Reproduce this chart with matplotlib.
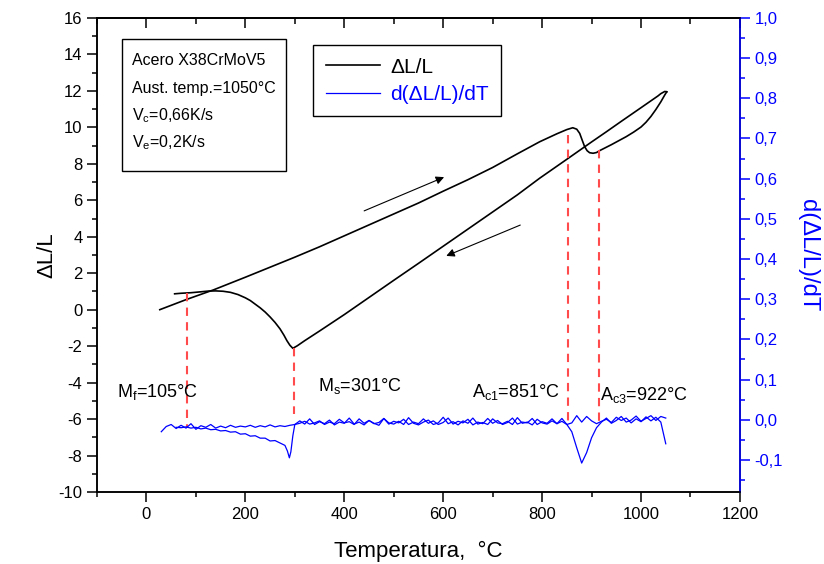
import matplotlib
matplotlib.use('Agg')
import matplotlib.pyplot as plt
from matplotlib.ticker import MultipleLocator, FuncFormatter
from matplotlib.patches import Rectangle

plt.rcParams['font.family'] = ['Liberation Sans', 'DejaVu Sans']
plt.rcParams['mathtext.fontset'] = 'custom'
plt.rcParams['mathtext.rm'] = 'Liberation Sans'
plt.rcParams['mathtext.default'] = 'regular'
plt.rcParams['axes.unicode_minus'] = False

# dilatometry curve, heating branch (T in C, dL/L)
heat_T = [27, 80, 135, 200, 250, 300, 350, 400, 450, 500, 550, 600, 650, 700, 750,
          795, 830, 850, 862, 870, 876, 881, 886, 891, 896, 903, 910, 916, 940, 970,
          985, 1000, 1010, 1020, 1030, 1040, 1048, 1052]
heat_L = [0.0, 0.55, 1.08, 1.78, 2.33, 2.88, 3.45, 4.05, 4.65, 5.25, 5.85, 6.5, 7.13, 7.8, 8.55,
          9.21, 9.65, 9.88, 9.98, 9.9, 9.67, 9.3, 8.94, 8.72, 8.61, 8.58, 8.62, 8.72, 9.05, 9.49,
          9.74, 10.02, 10.28, 10.6, 10.98, 11.4, 11.78, 11.95]

# cooling branch
cool_T = [1052, 1048, 1040, 1034, 1000, 960, 930, 900, 870, 850, 795, 750, 700, 650,
          600, 550, 500, 450, 400, 350, 320, 305, 296, 290, 284, 278, 270, 260, 250,
          240, 230, 220, 210, 200, 185, 170, 155, 140, 125, 110, 90, 70, 57]
cool_L = [11.95, 11.97, 11.85, 11.72, 11.08, 10.33, 9.76, 9.2, 8.63, 8.25, 7.21, 6.3, 5.36, 4.42,
          3.48, 2.54, 1.61, 0.67, -0.27, -1.17, -1.7, -1.98, -2.12, -1.95, -1.7, -1.4, -1.05, -0.7, -0.4,
          -0.13, 0.1, 0.3, 0.5, 0.65, 0.83, 0.95, 1.01, 1.03, 1.02, 0.98, 0.93, 0.9, 0.87]

# derivative d(dL/L)/dT, heating
dheat_T = [30, 40, 50, 60, 70, 80, 90, 100, 110, 120,
           130, 140, 150, 160, 170, 180, 190, 200, 210, 220,
           230, 240, 250, 260, 270, 280, 290, 300, 310, 320,
           330, 340, 350, 360, 370, 380, 390, 400, 410, 420,
           430, 440, 450, 460, 470, 480, 490, 500, 510, 520,
           530, 540, 550, 560, 570, 580, 590, 600, 610, 620,
           630, 640, 650, 660, 670, 680, 690, 700, 710, 720,
           730, 740, 750, 760, 770, 780, 790, 800, 810, 820,
           830, 840, 850, 860, 870, 880, 890, 900, 910, 920,
           930, 940, 950, 960, 970, 980, 990, 1000, 1010, 1020,
           1030, 1040, 1050]
dheat = [-0.030, -0.017, -0.012, -0.022, -0.014, -0.021, -0.010, -0.024, -0.015, -0.019,
         -0.012, -0.021, -0.016, -0.020, -0.014, -0.019, -0.016, -0.018, -0.014, -0.019,
         -0.015, -0.018, -0.013, -0.018, -0.015, -0.017, -0.014, -0.012, -0.003, -0.011,
         0.002, -0.012, -0.005, -0.010, -0.001, -0.013, -0.006, -0.009, 0.004, -0.011,
         -0.006, -0.013, -0.002, -0.009, -0.014, 0.003, -0.008, -0.011, -0.004, -0.012,
         0.005, -0.009, -0.013, -0.006, -0.001, -0.012, -0.008, 0.006, -0.010, -0.005,
         -0.013, -0.003, -0.009, 0.004, -0.011, -0.007, -0.012, 0.002, -0.008, -0.010,
         -0.004, -0.012, 0.005, -0.009, -0.006, -0.013, 0.001, -0.008, -0.011, -0.003,
         -0.010, 0.003, -0.012, -0.030, -0.070, -0.108, -0.082, -0.045, -0.020, -0.006,
         0.004, -0.009, -0.002, 0.008, -0.006, -0.001, 0.009, -0.004, 0.003, 0.010,
         -0.002, 0.008, 0.004]

# derivative, cooling
dcool_T = [1050, 1040, 1030, 1020, 1010, 1000, 990, 980, 970, 960,
           950, 940, 930, 920, 910, 900, 890, 880, 870, 860,
           850, 840, 830, 820, 810, 800, 790, 780, 770, 760,
           750, 740, 730, 720, 710, 700, 690, 680, 670, 660,
           650, 640, 630, 620, 610, 600, 590, 580, 570, 560,
           550, 540, 530, 520, 510, 500, 490, 480, 470, 460,
           450, 440, 430, 420, 410, 400, 390, 380, 370, 360,
           350, 340, 330, 320, 310, 300, 296, 292, 289, 285,
           280, 270, 260, 250, 240, 230, 220, 210, 200, 190,
           180, 170, 160, 150, 140, 130, 120, 110, 100, 90,
           80, 70, 60]
dcool = [-0.060, -0.006, 0.006, -0.003, 0.007, -0.005, 0.002, -0.008, 0.004, -0.002,
         0.006, -0.007, 0.001, -0.004, -0.010, -0.003, 0.008, -0.006, 0.010, -0.008,
         -0.012, -0.004, -0.010, 0.002, -0.009, -0.005, -0.012, 0.003, -0.008, -0.006,
         -0.011, 0.004, -0.007, -0.012, -0.002, -0.009, 0.003, -0.010, -0.006, -0.013,
         0.001, -0.008, -0.004, -0.011, 0.004, -0.007, -0.012, -0.003, -0.009, 0.002,
         -0.010, -0.006, -0.012, 0.001, -0.008, -0.004, -0.011, 0.003, -0.007, -0.010,
         -0.002, -0.009, 0.002, -0.012, -0.005, -0.008, 0.001, -0.010, -0.006, -0.012,
         -0.003, -0.008, -0.011, -0.004, -0.009, -0.012, -0.040, -0.080, -0.095, -0.078,
         -0.064, -0.058, -0.052, -0.053, -0.046, -0.046, -0.040, -0.041, -0.035, -0.036,
         -0.030, -0.031, -0.027, -0.028, -0.024, -0.025, -0.021, -0.023, -0.019, -0.021,
         -0.018, -0.020, -0.019]

# transformation markers
mark_T = [81, 298, 852, 916]
mark_top = [0.9, -2.1, 9.6, 8.75]
mark_bot = [-6.5, -5.7, -6.2, -6.15]
mark_labels = [r'M$_f$=105°C', r'M$_s$=301°C', r'A$_{c1}$=851°C', r'A$_{c3}$=922°C']
label_pos = [(-60, -4.5), (346, -4.2), (658, -4.5), (918, -4.7)]

info_lines = ['Acero X38CrMoV5', 'Aust. temp.=1050°C', r'V$_c$=0,66K/s', r'V$_e$=0,2K/s']

fig = plt.figure(figsize=(8.24, 5.64), dpi=100)
ax = fig.add_axes([0.1177, 0.1277, 0.7803, 0.8404])
ax2 = ax.twinx()

l1, = ax.plot(heat_T, heat_L, color='black', lw=1.2)
ax.plot(cool_T, cool_L, color='black', lw=1.2)
l2, = ax2.plot(dheat_T, dheat, color='blue', lw=0.9)
ax2.plot(dcool_T, dcool, color='blue', lw=0.9)

for T, top, bot in zip(mark_T, mark_top, mark_bot):
    ax.plot([T, T], [top, bot], color='#ff4b4b', lw=1.5, ls=(0, (4, 3)))
for txt, (x, y) in zip(mark_labels, label_pos):
    ax.text(x, y, txt, fontsize=13, ha='left', va='center')

ax.annotate('', xy=(607, 7.33), xytext=(435, 5.36),
            arrowprops=dict(arrowstyle='-|>', color='black', lw=0.8, mutation_scale=12))
ax.annotate('', xy=(601, 2.89), xytext=(761, 4.70),
            arrowprops=dict(arrowstyle='-|>', color='black', lw=0.8, mutation_scale=12))

ax.set_xlim(-100, 1200)
ax.set_ylim(-10, 16)
ax2.set_ylim(-0.18, 1.0)

ax.xaxis.set_major_locator(MultipleLocator(200))
ax.xaxis.set_minor_locator(MultipleLocator(100))
ax.yaxis.set_major_locator(MultipleLocator(2))
ax.yaxis.set_minor_locator(MultipleLocator(1))
ax2.yaxis.set_major_locator(MultipleLocator(0.1))
ax2.yaxis.set_minor_locator(MultipleLocator(0.05))
ax2.yaxis.set_major_formatter(FuncFormatter(lambda v, p: f'{v:.1f}'.replace('.', ',')
                                            if abs(v) > 1e-9 else '0,0'))

ax.tick_params(which='major', direction='out', length=7, width=1.1, labelsize=12)
ax.tick_params(which='minor', direction='out', length=3.5, width=1.1)
ax2.tick_params(which='major', direction='out', length=7, width=1.1, labelsize=12,
                colors='blue')
ax2.tick_params(which='minor', direction='out', length=3.5, width=1.1, colors='blue')

top = ax.secondary_xaxis('top')
top.xaxis.set_major_locator(MultipleLocator(200))
top.xaxis.set_minor_locator(MultipleLocator(100))
top.tick_params(which='major', direction='in', length=7, width=1.1, labeltop=False)
top.tick_params(which='minor', direction='in', length=4, width=1.1)
top.spines['top'].set_linewidth(1.1)

for s in ax.spines.values():
    s.set_linewidth(1.1)
for s in ax2.spines.values():
    s.set_linewidth(1.1)
ax2.spines['right'].set_color('blue')

ax.set_xlabel('Temperatura,  °C', fontsize=16, labelpad=14)
ax.set_ylabel('ΔL/L', fontsize=16, labelpad=1)
ax2.set_ylabel('d(ΔL/L)/dT', fontsize=17, color='blue', rotation=270, labelpad=26)

# info box
ax2.add_patch(Rectangle((0.0384, 0.678), 0.2556, 0.277, transform=ax2.transAxes,
                        fill=False, edgecolor='black', lw=1.0))
for txt, y in zip(info_lines, [0.911, 0.852, 0.795, 0.736]):
    ax2.text(0.054, y, txt, transform=ax2.transAxes, fontsize=11.5, va='center', ha='left')

leg = ax2.legend(handles=[l1, l2], labels=['ΔL/L', 'd(ΔL/L)/dT'], loc='upper left',
                 bbox_to_anchor=(0.336, 0.943), borderaxespad=0, fontsize=15,
                 frameon=True, fancybox=False, edgecolor='black', framealpha=1,
                 labelcolor=['black', 'blue'], handlelength=2.6, handletextpad=0.5,
                 borderpad=0.6, labelspacing=0.4)
leg.get_frame().set_linewidth(1.0)

fig.savefig('out.png', dpi=100)
